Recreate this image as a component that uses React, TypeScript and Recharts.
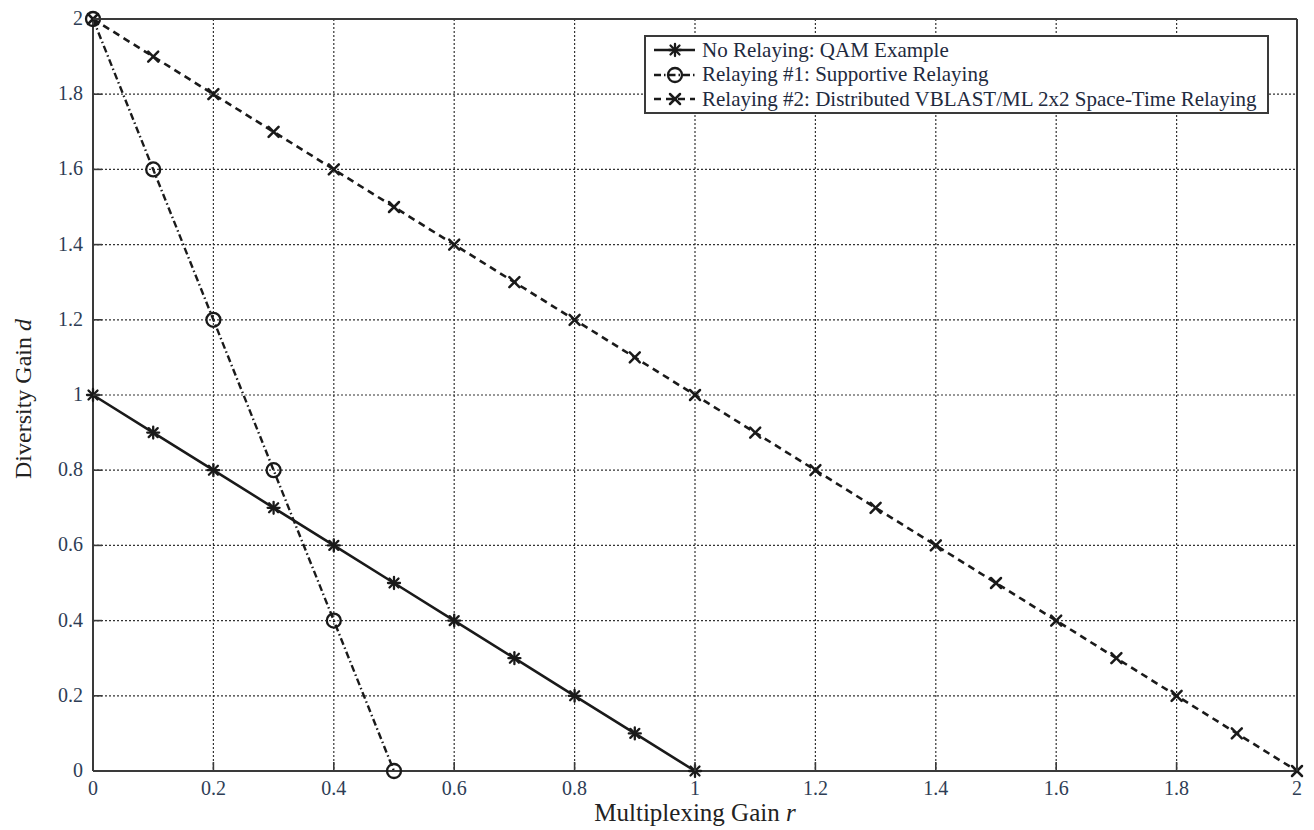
import React from 'react';
import { LineChart, Line, XAxis, YAxis, CartesianGrid, Label } from 'recharts';

// ---- data ----
const seriesNames = [
  'No Relaying: QAM Example',
  'Relaying #1: Supportive Relaying',
  'Relaying #2: Distributed VBLAST/ML 2x2 Space-Time Relaying',
];
const noRelayX = [0, 0.1, 0.2, 0.3, 0.4, 0.5, 0.6, 0.7, 0.8, 0.9, 1];
const noRelayY = [1, 0.9, 0.8, 0.7, 0.6, 0.5, 0.4, 0.3, 0.2, 0.1, 0];
const relay1X = [0, 0.1, 0.2, 0.3, 0.4, 0.5];
const relay1Y = [2, 1.6, 1.2, 0.8, 0.4, 0];
const relay2X = [0, 0.1, 0.2, 0.3, 0.4, 0.5, 0.6, 0.7, 0.8, 0.9, 1, 1.1, 1.2, 1.3, 1.4, 1.5, 1.6, 1.7, 1.8, 1.9, 2];
const relay2Y = [2, 1.9, 1.8, 1.7, 1.6, 1.5, 1.4, 1.3, 1.2, 1.1, 1, 0.9, 0.8, 0.7, 0.6, 0.5, 0.4, 0.3, 0.2, 0.1, 0];
const xTicks = [0, 0.2, 0.4, 0.6, 0.8, 1, 1.2, 1.4, 1.6, 1.8, 2];
const yTicks = [0, 0.2, 0.4, 0.6, 0.8, 1, 1.2, 1.4, 1.6, 1.8, 2];
const xLabelText = 'Multiplexing Gain ';
const xLabelVar = 'r';
const yLabelText = 'Diversity Gain ';
const yLabelVar = 'd';

const zip = (xs: number[], ys: number[]) => xs.map((x, i) => ({ x, y: ys[i] }));
const noRelayData = zip(noRelayX, noRelayY);
const relay1Data = zip(relay1X, relay1Y);
const relay2Data = zip(relay2X, relay2Y);

// ---- style ----
const FONT = 'Liberation Serif, Times New Roman, serif';
const AXIS = '#3a3a3a';
const TICK = '#2e3d55';
const INK = '#1a1a1a';
const TICK_LEN = 9;

const StarMark = ({ cx, cy }: { cx: number; cy: number }) => {
  const s = 6;
  const d = 4.5;
  return (
    <g stroke={INK} strokeWidth={2.3} strokeLinecap="round">
      <line x1={cx - s} y1={cy} x2={cx + s} y2={cy} />
      <line x1={cx} y1={cy - s} x2={cx} y2={cy + s} />
      <line x1={cx - d} y1={cy - d} x2={cx + d} y2={cy + d} />
      <line x1={cx - d} y1={cy + d} x2={cx + d} y2={cy - d} />
    </g>
  );
};
const CircleMark = ({ cx, cy }: { cx: number; cy: number }) => (
  <circle cx={cx} cy={cy} r={7} fill="none" stroke={INK} strokeWidth={2.3} />
);
const XMark = ({ cx, cy }: { cx: number; cy: number }) => {
  const d = 5;
  return (
    <g stroke={INK} strokeWidth={2.5} strokeLinecap="round">
      <line x1={cx - d} y1={cy - d} x2={cx + d} y2={cy + d} />
      <line x1={cx - d} y1={cy + d} x2={cx + d} y2={cy - d} />
    </g>
  );
};

const fmt = (v: number) => String(v);

const BottomTick = (props: any) => {
  const { x, y, payload } = props;
  return (
    <g>
      <line x1={x} y1={y} x2={x} y2={y - TICK_LEN} stroke={AXIS} strokeWidth={1.6} />
      <text x={x} y={y + 24} textAnchor="middle" fontSize={20} fill={TICK} fontFamily={FONT}>
        {fmt(payload.value)}
      </text>
    </g>
  );
};
const TopTick = (props: any) => {
  const { x, y } = props;
  return <line x1={x} y1={y} x2={x} y2={y + TICK_LEN} stroke={AXIS} strokeWidth={1.6} />;
};
const LeftTick = (props: any) => {
  const { x, y, payload } = props;
  return (
    <g>
      <line x1={x} y1={y} x2={x + TICK_LEN} y2={y} stroke={AXIS} strokeWidth={1.6} />
      <text x={x - 10} y={y + 6} textAnchor="end" fontSize={20} fill={TICK} fontFamily={FONT}>
        {fmt(payload.value)}
      </text>
    </g>
  );
};
const RightTick = (props: any) => {
  const { x, y } = props;
  return <line x1={x} y1={y} x2={x - TICK_LEN} y2={y} stroke={AXIS} strokeWidth={1.6} />;
};

const lineStyles = [
  { dash: undefined as string | undefined, width: 2.6, Mark: StarMark },
  { dash: '7 3 1.5 3', width: 2.4, Mark: CircleMark },
  { dash: '7 5', width: 2.6, Mark: XMark },
];

const LegendBox = () => (
  <div
    style={{
      position: 'absolute',
      left: 644,
      top: 35,
      width: 621,
      height: 74,
      border: `2px solid ${AXIS}`,
      background: '#fff',
      fontFamily: FONT,
      fontSize: 21,
      color: '#1e2a3e',
      paddingTop: 1,
      boxSizing: 'content-box',
    }}
  >
    {seriesNames.map((name, i) => {
      const st = lineStyles[i];
      const M = st.Mark;
      return (
        <div key={name} style={{ height: 24.5, display: 'flex', alignItems: 'center', whiteSpace: 'nowrap' }}>
          <svg width={54} height={24} style={{ flex: 'none' }}>
            <line x1={8} y1={12} x2={49} y2={12} stroke={INK} strokeWidth={st.width} strokeDasharray={st.dash} />
            <M cx={29} cy={12} />
          </svg>
          <span style={{ marginLeft: 2 }}>{name}</span>
        </div>
      );
    })}
  </div>
);

export default function App() {
  const series = [noRelayData, relay1Data, relay2Data];
  return (
    <div style={{ position: 'absolute', left: 0, top: 0, width: 1314, height: 830, background: '#fff' }}>
      <LineChart width={1314} height={830} margin={{ top: 18, right: 16, left: 0, bottom: 0 }}>
        <CartesianGrid stroke="#333" strokeWidth={1.2} strokeDasharray="2 2" />
        <XAxis
          dataKey="x"
          type="number"
          domain={[0, 2]}
          ticks={xTicks}
          height={59}
          tickSize={0}
          tickMargin={0}
          tickLine={false}
          interval={0}
          axisLine={{ stroke: AXIS, strokeWidth: 2 }}
          tick={<BottomTick />}
        >
          <Label
            content={(p: any) => {
              const vb = p.viewBox;
              return (
                <text x={vb.x + vb.width / 2} y={vb.y + 50} textAnchor="middle" fontSize={25} fill="#222" fontFamily={FONT}>
                  {xLabelText}
                  <tspan fontStyle="italic">{xLabelVar}</tspan>
                </text>
              );
            }}
          />
        </XAxis>
        <XAxis
          xAxisId="top"
          orientation="top"
          dataKey="x"
          type="number"
          domain={[0, 2]}
          ticks={xTicks}
          height={1}
          tickSize={0}
          tickMargin={0}
          tickLine={false}
          interval={0}
          axisLine={{ stroke: AXIS, strokeWidth: 2 }}
          tick={<TopTick />}
        />
        <YAxis
          type="number"
          domain={[0, 2]}
          ticks={yTicks}
          width={93}
          tickSize={0}
          tickMargin={0}
          tickLine={false}
          interval={0}
          axisLine={{ stroke: AXIS, strokeWidth: 2 }}
          tick={<LeftTick />}
        >
          <Label
            content={() => {
              const cy = 399;
              const cx = 31;
              return (
                <text
                  x={cx}
                  y={cy}
                  transform={`rotate(-90 ${cx} ${cy})`}
                  textAnchor="middle"
                  fontSize={24}
                  fill="#222"
                  fontFamily={FONT}
                >
                  {yLabelText}
                  <tspan fontStyle="italic">{yLabelVar}</tspan>
                </text>
              );
            }}
          />
        </YAxis>
        <YAxis
          yAxisId="right"
          orientation="right"
          type="number"
          domain={[0, 2]}
          ticks={yTicks}
          width={1}
          tickSize={0}
          tickMargin={0}
          tickLine={false}
          interval={0}
          axisLine={{ stroke: AXIS, strokeWidth: 2 }}
          tick={<RightTick />}
        />
        {series.map((d, i) => {
          const st = lineStyles[i];
          const M = st.Mark;
          return (
            <Line
              key={seriesNames[i]}
              name={seriesNames[i]}
              data={d}
              dataKey="y"
              type="linear"
              stroke={INK}
              strokeWidth={st.width}
              strokeDasharray={st.dash}
              isAnimationActive={false}
              dot={(p: any) => <M key={`${i}-${p.index}`} cx={p.cx} cy={p.cy} />}
              activeDot={false}
            />
          );
        })}
      </LineChart>
      <LegendBox />
    </div>
  );
}
